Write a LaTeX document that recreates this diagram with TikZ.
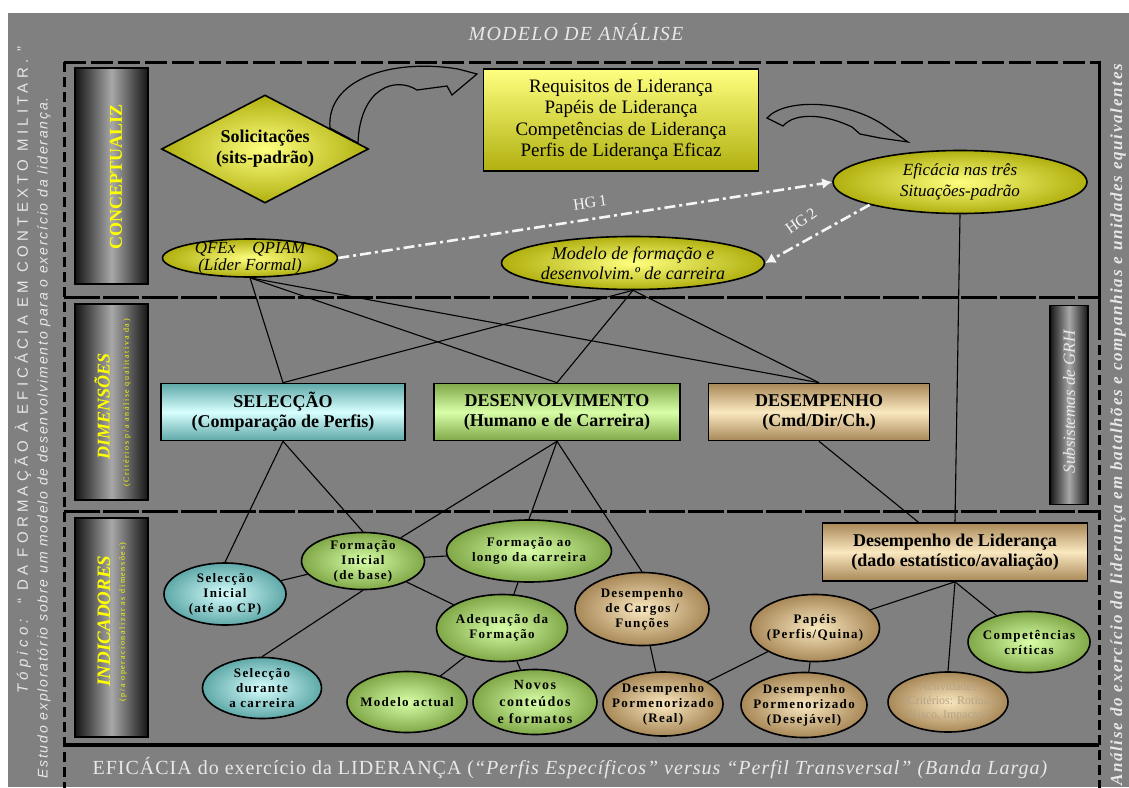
\documentclass[tikz,border=0pt]{standalone}
\usepackage{fontspec}
\setmainfont{Liberation Serif}
\newfontfamily\spf[LetterSpace=10]{Liberation Serif}
\newfontfamily\wsf[LetterSpace=6]{Liberation Serif}
\newfontfamily\rsf[LetterSpace=10]{Liberation Serif}
\newfontfamily\bsf[LetterSpace=5]{Liberation Serif}
\newfontfamily\tinyf[LetterSpace=20]{Liberation Serif}
\newfontfamily\sanfa[LetterSpace=28]{Liberation Sans}
\newfontfamily\sanf[LetterSpace=13]{Liberation Sans}
\usetikzlibrary{shapes.geometric,arrows.meta}
\definecolor{bg}{HTML}{808080}
\definecolor{ltxt}{HTML}{E8E8E8}
\definecolor{ylo}{HTML}{FFFF80}
\definecolor{yhi}{HTML}{B0B010}
\definecolor{cylo}{HTML}{D8FFFF}
\definecolor{cyhi}{HTML}{5FA8A8}
\definecolor{grlo}{HTML}{D8FFA8}
\definecolor{grhi}{HTML}{80A848}
\definecolor{tnlo}{HTML}{FAE8C0}
\definecolor{tnhi}{HTML}{A88858}
\definecolor{lblside}{HTML}{151515}
\definecolor{lblmid}{HTML}{A8A8A8}
\definecolor{lblyel}{HTML}{FFFF00}
\definecolor{faded}{HTML}{B4A487}
\tikzset{
  bd/.style={draw=black, line width=1.6pt},
  lblbox/.style={bd, rectangle, left color=lblside, right color=lblside, middle color=lblmid, inner sep=0pt},
  ybox/.style={bd, rectangle, top color=ylo, bottom color=yhi, inner sep=0pt, align=center},
  dimbox/.style={bd, rectangle, inner sep=0pt, minimum height=57pt, align=center, font=\bfseries\fontsize{18}{20}\selectfont},
  cybox/.style={dimbox, top color=cyhi, bottom color=cyhi, middle color=cylo},
  grbox/.style={dimbox, top color=grhi, bottom color=grhi, middle color=grlo},
  tnbox/.style={dimbox, top color=tnhi, bottom color=tnhi, middle color=tnlo},
  yell/.style={bd, ellipse, inner sep=0pt, inner color=ylo, outer color=yhi},
  gell/.style={bd, ellipse, inner sep=0pt, inner color=grlo, outer color=grhi},
  cell/.style={bd, ellipse, inner sep=0pt, inner color=cylo, outer color=cyhi},
  tell/.style={bd, ellipse, inner sep=0pt, inner color=tnlo, outer color=tnhi},
  stxt/.style={align=center, font=\spf\bfseries\fontsize{13}{15}\selectfont},
  ln/.style={draw=black, line width=1.1pt},
  frm/.style={draw=black, line width=3pt, dash pattern=on 22pt off 5pt},
  frmv/.style={draw=black, line width=3pt, dash pattern=on 10pt off 5pt},
  divl/.style={draw=black, line width=3pt, dash pattern=on 36pt off 3pt},
  hg/.style={draw=white!92!gray, line width=2.6pt, dash pattern=on 11pt off 4pt on 3pt off 4pt, -{Latex[length=10pt,width=11pt]}},
  hgl/.style={text=white!92!gray, font=\fontsize{16}{16}\selectfont},
  carrow/.style={draw=black, line width=1.2pt, fill=bg},
  lbltxt/.style={text=lblyel, rotate=90},
}
\begin{document}
\begin{tikzpicture}[x=1pt,y=-1pt]
\useasboundingbox (0,0) rectangle (1129,787);
\fill[white] (0,0) rectangle (1129,787);
\fill[bg] (8,13) rectangle (1129,787);
% frame
\draw[frm] (64,62) -- (1099,62);
\draw[frmv] (64,62) -- (64,790);
\draw[draw=black, line width=3pt] (1099,61) -- (1099,330);
\draw[frmv] (1099,330) -- (1099,790);
\draw[divl] (64,297) -- (1099,297);
\draw[divl] (64,511) -- (1099,511);
\draw[draw=black, line width=3.5pt] (64,745) -- (1099,745);
% side texts
\node[rotate=90, text=ltxt, font=\sanfa\fontsize{15}{15}\selectfont] (t1) at (23,370) {\textit{Tópico:} “ DA FORMAÇÃO À EFICÁCIA EM CONTEXTO MILITAR. ”};
\node[rotate=90, text=ltxt, font=\sanf\itshape\fontsize{14}{14}\selectfont] (t2) at (44,438) {Estudo exploratório sobre um modelo de desenvolvimento para o exercício da liderança.};
\node[rotate=90, text=ltxt, font=\rsf\bfseries\itshape\fontsize{17}{17}\selectfont] (rt) at (1118,425) {Análise do exercício da liderança em batalhões e companhias e unidades equivalentes};
\node[text=ltxt, font=\wsf\itshape\fontsize{20}{20}\selectfont] (title) at (576,32) {MODELO DE ANÁLISE};
\node[text=ltxt, anchor=west, font=\bsf\fontsize{20}{20}\selectfont] (band) at (89,768) {EFICÁCIA do exercício da LIDERANÇA (\textit{“Perfis Específicos” versus “Perfil Transversal” (Banda Larga)}};
% label boxes
\node[lblbox, minimum width=73pt, minimum height=216pt] (lc) at (111.5,176) {};
\node[lbltxt, font=\bfseries\fontsize{18}{18}\selectfont] (lct) at (116,177) {CONCEPTUALIZ};
\node[lblbox, minimum width=73pt, minimum height=196pt] (ld) at (111.5,402) {};
\node[lbltxt, font=\bfseries\itshape\fontsize{18}{18}\selectfont] (ldt) at (102,406) {DIMENSÕES};
\node[lbltxt, font=\tinyf\fontsize{8}{8}\selectfont] (lds) at (127,403) {(Critérios p/a análise qualitativa da)};
\node[lblbox, minimum width=73pt, minimum height=219pt] (li) at (111.5,627.5) {};
\node[lbltxt, font=\bfseries\itshape\fontsize{19}{19}\selectfont] (lit) at (104,621) {INDICADORES};
\node[lbltxt, font=\tinyf\fontsize{8}{8}\selectfont] (lis) at (123,622) {(p/a operacionalizar as dimensões)};
\node[lblbox, minimum width=38pt, minimum height=199pt] (ls) at (1069,405) {};
\node[rotate=90, text=ltxt, font=\itshape\fontsize{17}{17}\selectfont] (lst) at (1069,402) {Subsistemas de GRH};
% curved arrows
\draw[carrow] (330,128) .. controls (326,80) and (390,58) .. (458,69) -- (477,74) -- (452,95) -- (447,86) -- (417,90) .. controls (395,76) and (360,88) .. (358,143) -- cycle;
\draw[carrow] (767,118) .. controls (785,98) and (845,100) .. (882,124) -- (908,142) -- (880,138) -- (860,134) -- (852,127) .. controls (825,114) and (795,112) .. (783,126) -- cycle;
% top tier
\node[diamond, bd, inner color=ylo, outer color=yhi, minimum width=207pt, minimum height=108pt, inner sep=0pt,
  label={[align=center, font=\bfseries\fontsize{18}{21}\selectfont]center:{Solicitações\\(sits-padrão)}}] (sol) at (265,149) {};
\node[ybox, minimum width=275pt, minimum height=102pt, font=\fontsize{19}{21.5}\selectfont] (req) at (621,120)
  {Requisitos de Liderança\\Papéis de Liderança\\Competências de Liderança\\Perfis de Liderança Eficaz};
\node[yell, minimum width=254pt, minimum height=63pt,
  label={[align=center, font=\itshape\fontsize{17}{21}\selectfont]center:{Eficácia nas três\\Situações-padrão}}] (efi) at (960,182) {};
\node[yell, minimum width=175pt, minimum height=38pt,
  label={[align=center, font=\itshape\fontsize{17}{17}\selectfont]center:{QFEx\quad QPIAM\\(Líder Formal)}}] (qf) at (250,258) {};
\node[yell, minimum width=263pt, minimum height=53pt,
  label={[align=center, font=\itshape\fontsize{18}{20}\selectfont]center:{Modelo de formação e\\desenvolvim.º de carreira}}] (mod) at (633,263) {};
% dimensions
\node[cybox, minimum width=244pt] (sel) at (283,412) {SELECÇÃO\\(Comparação de Perfis)};
\node[grbox, minimum width=246pt] (des) at (557,412) {DESENVOLVIMENTO\\(Humano e de Carreira)};
\node[tnbox, minimum width=221pt] (dem) at (819,412) {DESEMPENHO\\(Cmd/Dir/Ch.)};
% indicators
\node[tnbox, minimum width=265pt, minimum height=58pt, font=\bfseries\fontsize{18}{20}\selectfont] (lid) at (955,552) {Desempenho de Liderança\\(dado estatístico/avaliação)};
\node[cell, minimum width=122pt, minimum height=62pt, label={[stxt]center:{Selecção\\Inicial\\(até ao CP)}}] (si) at (225,594) {};
\node[gell, minimum width=123pt, minimum height=57pt, label={[stxt]center:{Formação\\Inicial\\(de base)}}] (fi) at (363,561) {};
\node[cell, minimum width=119pt, minimum height=61pt, label={[stxt]center:{Selecção\\durante\\a carreira}}] (sd) at (262,688) {};
\node[gell, minimum width=165pt, minimum height=62pt, label={[stxt]center:{Formação ao\\longo da carreira}}] (fl) at (529,551) {};
\node[gell, minimum width=131pt, minimum height=67pt, label={[stxt]center:{Adequação da\\Formação}}] (ad) at (502,628) {};
\node[gell, minimum width=120pt, minimum height=61pt, label={[stxt]center:{Modelo actual}}] (ma) at (407,702) {};
\node[gell, minimum width=124pt, minimum height=65pt, label={[align=center, font=\spf\bfseries\fontsize{14}{17}\selectfont]center:{Novos\\conteúdos\\e formatos}}] (nc) at (535,702) {};
\node[tell, minimum width=134pt, minimum height=73pt, label={[stxt]center:{Desempenho\\de Cargos /\\Funções}}] (dc) at (642,609) {};
\node[tell, minimum width=120pt, minimum height=64pt, label={[stxt]center:{Desempenho\\Pormenorizado\\(Real)}}] (dr) at (663,704) {};
\node[tell, minimum width=129pt, minimum height=67pt, label={[stxt]center:{Papéis\\(Perfis/Quina)}}] (pp) at (815,628) {};
\node[tell, minimum width=126pt, minimum height=65pt, label={[stxt]center:{Desempenho\\Pormenorizado\\(Desejável)}}] (dd) at (804,705) {};
\node[tell, minimum width=120pt, minimum height=60pt, label={[align=center, text=faded, font=\fontsize{12}{14}\selectfont]center:{Actividades\\(Critérios: Rotina,\\Risco, Impacto)}}] (ac) at (948,702) {};
\node[gell, minimum width=122pt, minimum height=61pt, label={[stxt]center:{Competências\\críticas}}] (cc) at (1029,642) {};
% HG arrows
\draw[hg] (qf.east) -- (efi.west);
\draw[hg] (efi.south west) -- (mod.east);
\node[hgl, rotate=8] (hg1) at (590,203) {HG\,1};
\node[hgl, rotate=35] (hg2) at (801,221) {HG\,2};
% connectors
\draw[ln] (qf.south) -- (sel.north);
\draw[ln] (qf.south) -- (des.north);
\draw[ln] (qf.south) -- (dem.north);
\draw[ln] (mod.south) -- (sel.north);
\draw[ln] (mod.south) -- (des.north);
\draw[ln] (mod.south) -- (dem.north);
\draw[ln] (efi.south) -- (lid.north);
\draw[ln] (sel.south) -- (si.north);
\draw[ln] (sel.south) -- (fi.north);
\draw[ln] (des.south) -- (fi);
\draw[ln] (des.south) -- (fl.north);
\draw[ln] (des.south) -- (dc.north);
\draw[ln] (dem.south) -- (lid);
\draw[ln] (fi) -- (si);
\draw[ln] (fi.south) -- (sd.north);
\draw[ln] (fi) -- (fl);
\draw[ln] (fi) -- (ad);
\draw[ln] (fl) -- (ad);
\draw[ln] (ad) -- (ma);
\draw[ln] (ad) -- (nc);
\draw[ln] (dc) -- (dr);
\draw[ln] (pp) -- (dr);
\draw[ln] (pp) -- (dd);
\draw[ln] (lid.south) -- (pp);
\draw[ln] (lid.south) -- (ac.north);
\draw[ln] (lid.south) -- (cc);
\end{tikzpicture}
\end{document}
